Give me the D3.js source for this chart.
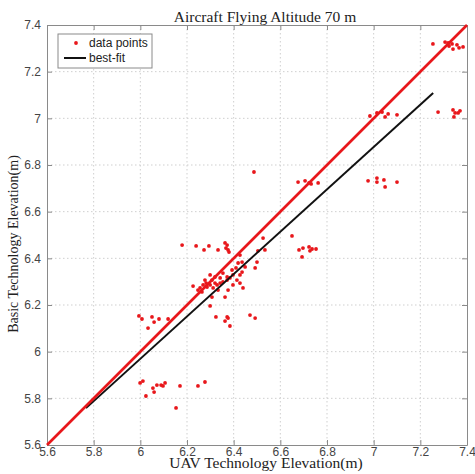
<!DOCTYPE html>
<html>
<head>
<meta charset="utf-8">
<script src="https://cdn.jsdelivr.net/npm/d3@7"></script>
<style>
	body { margin: 0; background: #fff; }
	svg { display: block; }
</style>
</head>
<body>
<div id="chart"></div>
<script>
//Data
var uavElev = [
	5.999, 6.011, 6.024, 6.054, 6.059, 6.071, 6.089, 6.097, 6.106, 6.17, 6.247, 6.277, 6.153,
	5.994, 6.007, 6.05, 6.059, 6.08, 6.119, 6.033, 6.299, 6.324, 6.363, 6.372, 6.384, 6.376, 6.47, 6.492,
	6.179, 6.239, 6.273, 6.294, 6.333, 6.363, 6.372, 6.367, 6.376, 6.38, 6.526, 6.504, 6.534,
	6.487,
	6.427, 6.436, 6.419, 6.5, 6.492, 6.393, 6.397, 6.372, 6.354, 6.342, 6.32, 6.307, 6.299, 6.277,
	6.269, 6.256, 6.247, 6.264, 6.286, 6.299, 6.312, 6.329, 6.342, 6.354, 6.372, 6.384, 6.436, 6.449,
	6.427, 6.414, 6.427, 6.44, 6.376, 6.363, 6.307, 6.226, 6.282, 6.32, 6.333, 6.397, 6.41,
	6.65, 6.68, 6.697, 6.723, 6.727, 6.736, 6.753, 6.693,
	6.676, 6.706, 6.723, 6.732, 6.762, 6.976, 7.014, 7.014, 7.044, 7.049, 7.1,
	6.984, 7.014, 7.036, 7.049, 7.062, 7.1, 7.276, 7.34, 7.349, 7.37, 7.344, 7.362,
	7.254, 7.306, 7.319, 7.323, 7.336, 7.34, 7.357, 7.366, 7.383
];
var basicElev = [
	5.866, 5.874, 5.81, 5.844, 5.827, 5.857, 5.857, 5.853, 5.866, 5.853, 5.853, 5.87, 5.759,
	6.153, 6.14, 6.149, 6.127, 6.14, 6.14, 6.101, 6.196, 6.149, 6.131, 6.149, 6.11, 6.144, 6.157, 6.144,
	6.457, 6.453, 6.436, 6.453, 6.436, 6.466, 6.457, 6.444, 6.436, 6.427, 6.487, 6.432, 6.436,
	6.77,
	6.414, 6.384, 6.38, 6.384, 6.359, 6.35, 6.329, 6.32, 6.337, 6.316, 6.32, 6.307, 6.329, 6.307,
	6.286, 6.273, 6.264, 6.256, 6.277, 6.286, 6.273, 6.286, 6.294, 6.299, 6.307, 6.316, 6.341, 6.363,
	6.329, 6.307, 6.294, 6.273, 6.264, 6.234, 6.234, 6.281, 6.294, 6.294, 6.264, 6.286, 6.359,
	6.496, 6.436, 6.444, 6.449, 6.432, 6.44, 6.44, 6.406,
	6.727, 6.732, 6.723, 6.719, 6.723, 6.732, 6.744, 6.727, 6.736, 6.706, 6.727,
	7.01, 7.023, 7.027, 7.006, 7.019, 7.015, 7.027, 7.036, 7.023, 7.032, 7.006, 7.023,
	7.319, 7.327, 7.323, 7.31, 7.319, 7.297, 7.315, 7.302, 7.306
];

//Best-fit and 1:1 lines
var fitX = [5.767, 7.255];
var fitY = [5.758, 7.109];
var oneToOne = [5.6, 7.4];

var xTicks = [5.6, 5.8, 6, 6.2, 6.4, 6.6, 6.8, 7, 7.2, 7.4];
var yTicks = [5.6, 5.8, 6, 6.2, 6.4, 6.6, 6.8, 7, 7.2, 7.4];

var titleText = 'Aircraft Flying Altitude 70 m';
var xLabel = 'UAV Technology Elevation(m)';
var yLabel = 'Basic Technology Elevation(m)';

var width = 475, height = 474;
var margin = {top: 25, right: 8, bottom: 29, left: 47};
var w = width - margin.left - margin.right;
var h = height - margin.top - margin.bottom;

var svg = d3.select('#chart').append('svg')
	.attr('width', width)
	.attr('height', height);

var g = svg.append('g')
	.attr('transform', 'translate(' + margin.left + ',' + margin.top + ')');

var x = d3.scaleLinear().domain([5.6, 7.4]).range([0, w]);
var y = d3.scaleLinear().domain([5.6, 7.4]).range([h, 0]);

var fmt = function(d) { return String(+d.toFixed(1)); };

//Grid
g.append('g').selectAll('line')
	.data(xTicks.slice(1, -1))
	.enter().append('line')
	.attr('x1', function(d) { return x(d); })
	.attr('x2', function(d) { return x(d); })
	.attr('y1', 0).attr('y2', h)
	.attr('stroke', '#cfcfcf')
	.attr('stroke-dasharray', '1.5,2.5');
g.append('g').selectAll('line')
	.data(yTicks.slice(1, -1))
	.enter().append('line')
	.attr('y1', function(d) { return y(d); })
	.attr('y2', function(d) { return y(d); })
	.attr('x1', 0).attr('x2', w)
	.attr('stroke', '#cfcfcf')
	.attr('stroke-dasharray', '1.5,2.5');

//Axes (ticks inside, on all four sides)
var axisStyle = function(sel) {
	sel.selectAll('.domain').attr('stroke', '#8a8a8a');
	sel.selectAll('.tick line').attr('stroke', '#8a8a8a');
	sel.selectAll('text')
		.attr('fill', '#444')
		.style('font-family', '"Liberation Sans", Arial, sans-serif')
		.style('font-size', '12px');
};

g.append('g')
	.attr('transform', 'translate(0,' + h + ')')
	.call(d3.axisBottom(x).tickValues(xTicks).tickFormat(fmt).tickSizeInner(-5).tickSizeOuter(0).tickPadding(2))
	.call(axisStyle);
g.append('g')
	.call(d3.axisLeft(y).tickValues(yTicks).tickFormat(fmt).tickSizeInner(-5).tickSizeOuter(0).tickPadding(6))
	.call(axisStyle);
g.append('g')
	.call(d3.axisTop(x).tickValues(xTicks).tickFormat('').tickSizeInner(-5).tickSizeOuter(0))
	.call(axisStyle);
g.append('g')
	.attr('transform', 'translate(' + w + ',0)')
	.call(d3.axisRight(y).tickValues(yTicks).tickFormat('').tickSizeInner(-5).tickSizeOuter(0))
	.call(axisStyle);

//Points
g.append('g').selectAll('circle')
	.data(d3.range(uavElev.length))
	.enter().append('circle')
	.attr('cx', function(i) { return x(uavElev[i]); })
	.attr('cy', function(i) { return y(basicElev[i]); })
	.attr('r', 1.9)
	.attr('fill', '#e8171b');

var line = d3.line()
	.x(function(d) { return x(d[0]); })
	.y(function(d) { return y(d[1]); });

//Best-fit line
g.append('path')
	.datum(fitX.map(function(v, i) { return [v, fitY[i]]; }))
	.attr('d', line)
	.attr('fill', 'none')
	.attr('stroke', '#111')
	.attr('stroke-width', 2);

//1:1 line
g.append('path')
	.datum(oneToOne.map(function(v) { return [v, v]; }))
	.attr('d', line)
	.attr('fill', 'none')
	.attr('stroke', '#e8171b')
	.attr('stroke-width', 2.6);

//Legend
var legend = g.append('g').attr('transform', 'translate(11,9)');
legend.append('rect')
	.attr('width', 94).attr('height', 34)
	.attr('fill', '#fff')
	.attr('stroke', '#8a8a8a');
legend.append('circle')
	.attr('cx', 18).attr('cy', 9).attr('r', 1.9)
	.attr('fill', '#e8171b');
legend.append('line')
	.attr('x1', 6).attr('x2', 28)
	.attr('y1', 24).attr('y2', 24)
	.attr('stroke', '#111').attr('stroke-width', 2);
legend.selectAll('text')
	.data(['data points', 'best-fit'])
	.enter().append('text')
	.attr('x', 31)
	.attr('y', function(d, i) { return 13 + i * 15; })
	.attr('fill', '#222')
	.style('font-family', '"Liberation Sans", Arial, sans-serif')
	.style('font-size', '12px')
	.text(function(d) { return d; });

//Titles
svg.append('text')
	.attr('x', 265).attr('y', 22)
	.attr('text-anchor', 'middle')
	.attr('fill', '#222')
	.style('font-family', '"Liberation Serif", "Times New Roman", serif')
	.style('font-size', '15.5px')
	.text(titleText);
svg.append('text')
	.attr('x', 266).attr('y', 468)
	.attr('text-anchor', 'middle')
	.attr('fill', '#222')
	.style('font-family', '"Liberation Serif", "Times New Roman", serif')
	.style('font-size', '15.5px')
	.text(xLabel);
svg.append('text')
	.attr('transform', 'translate(18,244) rotate(-90)')
	.attr('text-anchor', 'middle')
	.attr('fill', '#222')
	.style('font-family', '"Liberation Serif", "Times New Roman", serif')
	.style('font-size', '14px')
	.text(yLabel);
</script>
</body>
</html>
